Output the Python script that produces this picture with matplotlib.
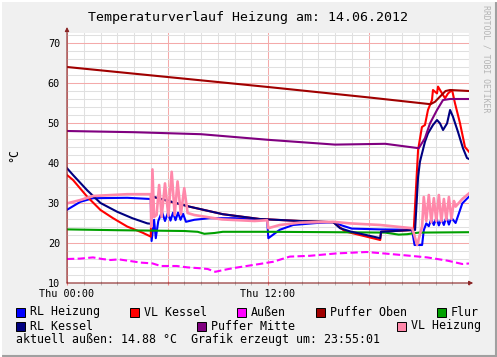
import numpy as np
import matplotlib.pyplot as plt
from matplotlib.patches import Rectangle
from matplotlib.lines import Line2D

plt.rcParams['font.family'] = 'DejaVu Sans Mono'

# hours since Thu 00:00 and temperatures (°C)
t_rl_heizung = [0, 0.8, 1.55, 3.6, 5.0, 5.05, 5.2, 5.3, 5.45, 5.67, 5.85, 6.03, 6.18, 6.33, 6.48,
                6.63, 6.78, 6.93, 7.1, 7.6, 8.5, 10.0, 11.95, 12.02, 12.7, 13.5, 14.9, 15.9, 16.4,
                17.0, 18.7, 20.6, 20.75, 21.2, 21.3, 21.45, 21.6, 21.75, 21.9, 22.05, 22.2, 22.35,
                22.5, 22.65, 22.8, 22.95, 23.2, 23.6, 24.0]
rl_heizung = [28.3, 30.3, 31.2, 31.3, 31.0, 20.5, 25.8, 21.2, 25.5, 27.8, 25.5, 27.6, 25.6, 27.6, 25.7,
              27.6, 25.8, 27.3, 25.3, 25.8, 26.2, 26.2, 25.8, 21.2, 23.3, 24.5, 25.0, 25.2, 24.4,
              23.6, 23.4, 23.3, 19.5, 19.5, 23.2, 24.9, 24.2, 26.0, 24.5, 26.3, 24.4, 26.0,
              24.5, 26.5, 24.6, 26.3, 25.0, 29.9, 31.6]

t_vl_kessel = [0, 0.36, 1.2, 2.0, 2.75, 3.6, 4.5, 5.0, 5.06, 7.3, 9.3, 11.5, 12.0, 13.9, 15.9, 16.6,
               18.7, 18.75, 20.7, 20.96, 21.19, 21.37, 21.55, 21.79, 21.85, 22.09, 22.15, 22.39,
               22.57, 22.75, 22.99, 23.16, 23.46, 23.76, 24.0]
vl_kessel = [37.0, 35.75, 31.6, 28.25, 26.2, 24.1, 22.6, 21.6, 31.6, 29.1, 27.2, 26.0, 25.9, 25.5, 25.2, 22.9,
             20.75, 22.8, 23.25, 43.25, 49.0, 49.5, 53.25, 55.75, 58.25, 57.4, 59.1, 57.4,
             56.2, 57.4, 58.25, 55.0, 50.0, 44.0, 42.8]

t_aussen = [0, 0.8, 1.55, 2.1, 2.6, 3.1, 3.6, 4.4, 5.1, 5.6, 6.55, 7.2, 7.9, 8.4, 8.85, 9.4, 9.9,
            11.1, 11.5, 12.0, 12.3, 13.3, 14.5, 16.1, 17.9, 19.3, 20.5, 21.5, 22.7, 23.6, 24.0]
aussen = [16.0, 16.1, 16.4, 16.0, 15.75, 15.9, 15.6, 15.1, 14.9, 14.25, 14.25, 13.9, 13.7, 13.5, 12.8, 13.3, 13.7,
          14.5, 14.75, 15.1, 15.3, 16.6, 16.8, 17.4, 17.75, 17.25, 16.8, 16.4, 15.6, 14.75, 14.88]

t_puffer_oben = [0, 6.0, 12.0, 18.0, 21.7, 21.97, 22.27, 22.6, 22.87, 24.0]
puffer_oben = [64.0, 61.5, 59.0, 56.4, 54.7, 55.3, 56.6, 58.0, 58.25, 58.0]

t_flur = [0, 3, 7, 7.8, 8.2, 8.8, 9.3, 12, 16, 19, 19.8, 20.3, 21, 24]
flur = [23.4, 23.2, 23.0, 22.8, 22.3, 22.5, 22.8, 22.8, 22.7, 22.6, 22.1, 22.2, 22.6, 22.7]

t_rl_kessel = [0, 0.36, 1.2, 2.0, 3.0, 3.9, 4.8, 5.05, 5.1, 7.3, 9.3, 11.5, 12.0, 13.9, 15.9, 16.3,
               16.9, 18.7, 18.75, 20.6, 20.78, 20.96, 21.07, 21.37, 21.55, 21.85, 22.09, 22.27,
               22.45, 22.69, 22.87, 23.04, 23.34, 23.64, 23.88, 24.0]
rl_kessel = [38.7, 37.0, 33.2, 30.0, 27.8, 26.2, 24.9, 24.8, 31.6, 29.1, 27.2, 26.0, 25.9, 25.5, 25.2, 23.7,
             22.9, 21.2, 22.8, 23.25, 23.25, 36.5, 40.3, 45.3, 47.4, 49.5, 50.75, 49.9,
             48.25, 49.9, 53.25, 51.6, 47.8, 43.7, 41.25, 41.0]

t_puffer_mitte = [0, 4.0, 8.0, 12.0, 16.0, 19.0, 21.0, 21.37, 21.67, 22.09, 22.45, 22.87, 24.0]
puffer_mitte = [48.0, 47.7, 47.2, 45.8, 44.6, 44.8, 43.7, 46.2, 49.9, 53.25, 55.75, 56.0, 56.0]

t_vl_heizung = [0, 0.8, 1.55, 3.6, 5.0, 5.03, 5.1, 5.2, 5.35, 5.5, 5.65, 5.85, 6.05, 6.25, 6.43, 6.6,
                6.8, 7.0, 7.2, 7.6, 9.25, 11.2, 11.95, 12.02, 12.7, 13.9, 15.9, 16.9, 18.7, 20.6,
                20.7, 20.9, 21.2, 21.3, 21.45, 21.6, 21.75, 21.9, 22.05, 22.2, 22.35, 22.5, 22.65,
                22.8, 22.95, 23.1, 23.2, 23.6, 24.0]
vl_heizung = [29.9, 30.75, 31.75, 32.2, 32.2, 24.0, 38.4, 26.5, 27.0, 34.5, 26.5, 34.9, 26.8, 37.8, 27.0, 35.4,
              27.2, 33.7, 27.5, 27.0, 25.9, 25.5, 25.7, 23.7, 24.5, 25.1, 25.3, 24.9, 24.5, 23.7,
              22.5, 19.5, 24.1, 31.5, 25.5, 32.0, 25.2, 31.2, 25.5, 32.0, 25.4, 31.0, 25.8,
              31.5, 26.0, 30.5, 29.1, 31.0, 32.4]

W, H = 497, 357


def fx(x):
    return x / W


def fy(y):
    return 1 - y / H


fig = plt.figure(figsize=(W / 100, H / 100), dpi=100, facecolor='#f0f0f0')
ax = fig.add_axes([fx(67), fy(283), 402 / W, 250 / H])
ax.set_facecolor('white')
ax.set_xlim(0, 24)
ax.set_ylim(10, 72.5)

ax.set_xticks([0, 6, 12, 18, 24])
ax.set_xticklabels(['Thu 00:00', '', 'Thu 12:00', '', ''])
ax.set_xticks(np.arange(0, 25, 1), minor=True)
ax.set_yticks(np.arange(10, 80, 10))
ax.set_yticks(np.arange(10, 73, 2), minor=True)
ax.grid(which='minor', color='#e0e0e0', lw=0.75)
ax.grid(which='major', color='#f4aaaa', lw=0.75)
ax.set_axisbelow(True)
ax.tick_params(axis='x', which='major', length=3, direction='inout', color='#f08080', labelsize=7.3, pad=3)
ax.tick_params(axis='x', which='minor', length=3, direction='inout', color='#b0b0b0')
ax.tick_params(axis='y', which='both', length=0, labelsize=7.3, pad=5)
for s in ax.spines.values():
    s.set_visible(False)

series = [
    (t_rl_heizung, rl_heizung, '#0000ff', 'RL Heizung'),
    (t_vl_kessel, vl_kessel, '#ff0000', 'VL Kessel'),
    (t_aussen, aussen, '#ff00ff', 'Außen'),
    (t_puffer_oben, puffer_oben, '#a00000', 'Puffer Oben'),
    (t_flur, flur, '#00a000', 'Flur'),
    (t_rl_kessel, rl_kessel, '#000080', 'RL Kessel'),
    (t_puffer_mitte, puffer_mitte, '#800080', 'Puffer Mitte'),
    (t_vl_heizung, vl_heizung, '#ff88aa', 'VL Heizung'),
]
for t, v, c, name in series:
    if name == 'Außen':
        ax.plot(t, v, color=c, lw=1.5, dashes=(3.5, 1.6))
    elif name == 'VL Heizung':
        ax.plot(t, v, color=c, lw=1.9)
    else:
        ax.plot(t, v, color=c, lw=1.5)

# axes with arrows
axis_col = '#8a2525'
ax.annotate('', xy=(24.25, 10), xytext=(0, 10), annotation_clip=False,
            arrowprops=dict(arrowstyle='-|>', color=axis_col, lw=0.8, mutation_scale=6,
                            shrinkA=0, shrinkB=0))
ax.annotate('', xy=(0, 74), xytext=(0, 10), annotation_clip=False,
            arrowprops=dict(arrowstyle='-|>', color=axis_col, lw=0.8, mutation_scale=6,
                            shrinkA=0, shrinkB=0))

fig.text(0.5, fy(17), 'Temperaturverlauf Heizung am: 14.06.2012', ha='center', va='center', fontsize=9.5)
fig.text(fx(14), fy(155), '°C', rotation=90, ha='center', va='center', fontsize=8.4)
fig.text(fx(486), fy(5), 'RRDTOOL / TOBI OETIKER', rotation=270, ha='center', va='top',
         fontsize=5.9, color='#b4b4b4')

# legend
legend_pos = [(16, 312), (130, 312), (237, 312), (316, 312), (437, 312),
              (16, 326), (197, 326), (397, 326)]
for (lx, ly), (t, v, c, name) in zip(legend_pos, series):
    fig.patches.append(Rectangle((fx(lx), fy(ly + 4.5)), 9 / W, 9 / H, facecolor=c,
                                 edgecolor='black', lw=0.7, transform=fig.transFigure))
    fig.text(fx(lx + 14), fy(ly), name, ha='left', va='center', fontsize=8.4)
fig.text(fx(16), fy(340), 'aktuell außen: 14.88 °C  Grafik erzeugt um: 23:55:01',
         ha='left', va='center', fontsize=8.4)

# frame
fig.lines.append(Line2D([0, 1], [fy(356), fy(356)], color='#a0a0a0', lw=1.5, transform=fig.transFigure))
fig.lines.append(Line2D([fx(496), fx(496)], [0, 1], color='#a0a0a0', lw=1.5, transform=fig.transFigure))
fig.lines.append(Line2D([0, 1], [fy(0.5), fy(0.5)], color='white', lw=1.5, transform=fig.transFigure))
fig.lines.append(Line2D([fx(0.5), fx(0.5)], [0, 1], color='white', lw=1.5, transform=fig.transFigure))

fig.savefig('out.png', dpi=100, facecolor=fig.get_facecolor())
